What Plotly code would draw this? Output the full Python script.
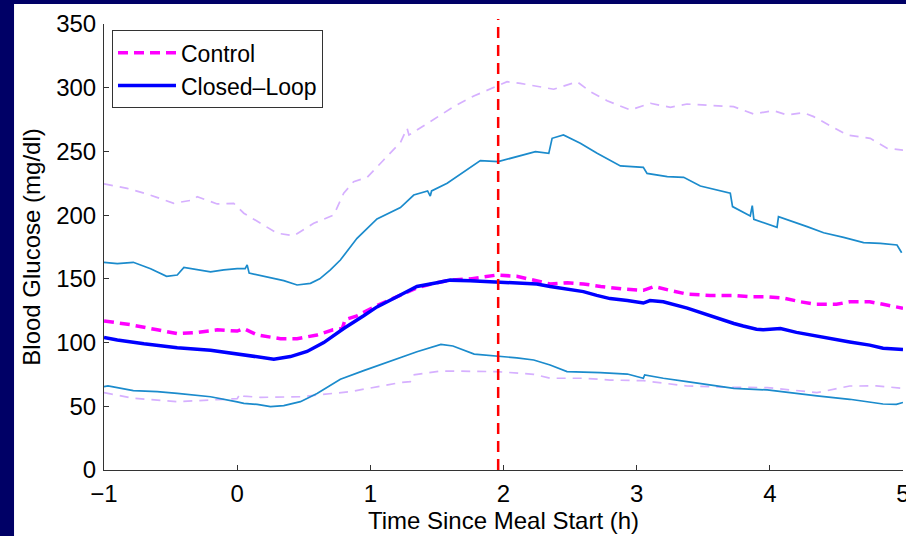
import plotly.graph_objects as go

# ---------------- data ----------------
ctrl_mean_t = [-1, -0.8, -0.6, -0.45, -0.3, -0.15, 0.0, 0.05, 0.15, 0.325, 0.45, 0.6, 0.72, 0.79,
               0.81, 0.9, 1.05, 1.2, 1.35, 1.5, 1.6, 1.75, 1.95, 2.1, 2.23, 2.35, 2.48, 2.6, 2.73,
               2.9, 3.05, 3.13, 3.25, 3.38, 3.55, 3.73, 3.85, 3.98, 4.1, 4.23, 4.35, 4.5, 4.6,
               4.75, 4.85, 5.0]
ctrl_mean = [117, 114, 110, 107, 108, 110, 109, 111, 106, 103, 103, 106, 110, 111,
             118, 121, 129, 136, 143, 147, 149, 150, 153, 152, 149, 146, 147, 146, 144,
             142, 141, 144, 141, 138, 137, 137, 136, 136, 135, 132, 130, 130, 132,
             132, 130, 127]

ctrl_up_t = [-1, -0.826, -0.676, -0.476, -0.326, -0.3, -0.15, -0.026, 0.05, 0.175, 0.3, 0.425,
             0.575, 0.725, 0.8, 0.875, 0.976, 1.1, 1.226, 1.276, 1.29, 1.45, 1.626, 1.777, 1.902,
             2.027, 2.127, 2.252, 2.377, 2.552, 2.652, 2.778, 2.953, 3.103, 3.253, 3.378, 3.528,
             3.728, 3.878, 4.028, 4.129, 4.254, 4.329, 4.454, 4.58, 4.754, 4.88, 5.0]
ctrl_up = [224.5, 221, 216.6, 209.3, 212, 214.5, 208.8, 209.3, 201.5, 193.6, 185.8, 183.9,
           193.6, 200.1, 217.2, 226.3, 229.7, 243.3, 257, 268.2, 262.9, 273.4, 285.1, 293.5, 298.8,
           304.7, 303.4, 300.8, 298.8, 304.7, 296.9, 289.8, 282.5, 287.8, 284.6, 287.2, 286.4,
           285.1, 279.4, 282, 278.6, 280.4, 277.3, 270, 262.9, 260.3, 252.5, 251]

ctrl_lo_t = [-1, -0.78, -0.45, -0.2, 0.0, 0.025, 0.05, 0.175, 0.475, 0.85, 1.22, 1.3, 1.32,
             1.53, 1.95, 2.227, 2.35, 2.6, 2.8, 3.05, 3.378, 3.73, 3.98, 4.354, 4.6, 4.8, 5.0]
ctrl_lo = [60.7, 56.3, 53.6, 55, 56, 60.2, 58, 57, 57.5, 61.5, 68.5, 69.3, 74.6,
           77.7, 77.2, 75.1, 72, 72, 70.6, 70.1, 65.9, 64.9, 64.7, 60.7, 65.9, 66, 64.1]

cl_mean_t = [-1, -0.9, -0.7, -0.45, -0.2, 0.05, 0.15, 0.275, 0.4, 0.525, 0.65, 0.8, 0.95, 1.05,
             1.2, 1.35, 1.5, 1.6, 1.75, 1.95, 2.1, 2.25, 2.35, 2.48, 2.6, 2.7, 2.8, 2.93, 3.0,
             3.05, 3.1, 3.2, 3.38, 3.55, 3.73, 3.8, 3.9, 3.95, 4.08, 4.2, 4.35, 4.6, 4.75, 4.85,
             5.0]
cl_mean = [104, 102, 99, 96, 94, 90, 88.5, 87, 89, 93, 100, 111, 121, 128,
           136, 144, 147, 149, 148.5, 147.5, 147, 146, 144, 142, 140, 137, 134.5, 133, 131.5,
           131, 133, 132, 127, 121, 115, 113, 110.5, 110, 111, 108, 105, 100.5, 98, 95.5,
           94.5]

cl_up_t = [-1, -0.9, -0.78, -0.65, -0.53, -0.45, -0.4, -0.3, -0.2, -0.1, 0.0, 0.06, 0.075, 0.09,
           0.2, 0.35, 0.45, 0.55, 0.62, 0.7, 0.775, 0.9, 1.05, 1.226, 1.326, 1.43, 1.45, 1.46,
           1.577, 1.70, 1.826, 1.96, 2.127, 2.24, 2.34, 2.365, 2.45, 2.577, 2.703, 2.878, 3.05,
           3.078, 3.23, 3.353, 3.478, 3.6, 3.703, 3.72, 3.853, 3.868, 3.88, 4.054, 4.065, 4.28,
           4.404, 4.554, 4.704, 4.83, 4.955, 4.99]
cl_up = [163, 162, 163, 158, 152, 153, 159, 157, 155.5, 157, 158, 158, 161, 154.5,
         152, 148.6, 145.2, 146.5, 150, 157, 164.8, 181.8, 197, 206, 215.8, 219, 215, 219,
         225, 234, 242.8, 242, 246.4, 249.8, 248.5, 260.3, 262.9, 256.4, 248.5, 238.6, 237.5,
         232.8, 230.2, 229.7, 222.9, 219.7, 217.2, 206.7, 199.3, 207.4, 196.7, 190.5, 198.8, 191,
         186.2, 182.6, 178.4, 177.9, 176.6, 170.5]

cl_lo_t = [-1, -0.97, -0.78, -0.6, -0.45, -0.2, 0.0, 0.05, 0.15, 0.25, 0.35, 0.475, 0.6, 0.775,
           0.95, 1.1, 1.35, 1.53, 1.62, 1.78, 1.95, 2.1, 2.227, 2.35, 2.477, 2.6, 2.727, 2.93,
           3.05, 3.06, 3.2, 3.378, 3.55, 3.73, 3.98, 4.15, 4.354, 4.6, 4.85, 4.95, 5.0]
cl_lo = [65.4, 66, 62.3, 61.5, 60.2, 57.5, 53.5, 52.3, 51.5, 49.7, 50.5, 53.6, 60, 71.2,
         78, 83.7, 92.8, 98.6, 97.3, 91, 89.7, 88, 86.3, 82.4, 77.2, 77, 76.4, 75.3,
         72, 74.6, 72, 69.3, 66.5, 64.1, 62.8, 60.5, 58.1, 55.5, 51.8, 51.5, 53]

meal_marker_t = 1.96

x_ticks = [-1, 0, 1, 2, 3, 4, 5]
y_ticks = [0, 50, 100, 150, 200, 250, 300, 350]

# ---------------- style ----------------
NAVY = "#000066"
LAV = "#d6b0ff"
CLB = "#1b8bcc"
FONT = "Liberation Sans, Arial, sans-serif"

fig = go.Figure()

fig.add_trace(go.Scatter(x=ctrl_up_t, y=ctrl_up, mode="lines", showlegend=False,
                         line=dict(color=LAV, width=1.7, dash="9px,7px")))
fig.add_trace(go.Scatter(x=ctrl_lo_t, y=ctrl_lo, mode="lines", showlegend=False,
                         line=dict(color=LAV, width=1.7, dash="9px,7px")))
fig.add_trace(go.Scatter(x=cl_up_t, y=cl_up, mode="lines", showlegend=False,
                         line=dict(color=CLB, width=1.7)))
fig.add_trace(go.Scatter(x=cl_lo_t, y=cl_lo, mode="lines", showlegend=False,
                         line=dict(color=CLB, width=1.7)))
fig.add_trace(go.Scatter(x=ctrl_mean_t, y=ctrl_mean, mode="lines", name="Control",
                         line=dict(color="#ff00ff", width=3.5, dash="10px,6px")))
fig.add_trace(go.Scatter(x=cl_mean_t, y=cl_mean, mode="lines", name="Closed\u2013Loop",
                         line=dict(color="#0000ff", width=3.5)))

# white slide panel behind the chart
fig.add_shape(type="rect", xref="paper", yref="paper", x0=-0.1126, x1=1.01, y0=-0.2, y1=1.0448,
              fillcolor="white", line=dict(width=0), layer="below")
# meal marker
fig.add_shape(type="line", xref="x", yref="paper", x0=meal_marker_t, x1=meal_marker_t,
              y0=0, y1=1.011, line=dict(color="#ff0000", width=2.5, dash="11px,7px"),
              layer="above")

axis_common = dict(showline=True, linecolor="#333333", linewidth=1, ticks="inside",
                   ticklen=5, tickcolor="#333333", showgrid=False, zeroline=False,
                   automargin=False, ticklabeloverflow="allow",
                   tickfont=dict(family=FONT, size=24, color="black"),
                   title_font=dict(family=FONT, size=24, color="black"))

fig.update_xaxes(range=[-1, 5], tickvals=x_ticks, ticklabelstandoff=2,
                 title_text="Time Since Meal Start (h)", title_standoff=0, **axis_common)
fig.update_yaxes(range=[0, 350], tickvals=y_ticks, ticklabelstandoff=2,
                 title_text="Blood Glucose (mg/dl)", title_standoff=8, **axis_common)

fig.update_layout(
    width=906, height=536,
    margin=dict(l=104, r=3, t=24, b=66),
    paper_bgcolor=NAVY, plot_bgcolor="white",
    font=dict(family=FONT, color="black"),
    legend=dict(x=0.01, y=0.986, xanchor="left", yanchor="top",
                bgcolor="white", bordercolor="#333333", borderwidth=1,
                font=dict(family=FONT, size=23, color="black"),
                tracegroupgap=0, itemwidth=58),
)

fig.write_html(
    "out.html",
    config={"displayModeBar": False},
    post_script="document.body.style.margin='0';document.body.style.padding='0';"
                "document.body.style.overflow='hidden';",
)
